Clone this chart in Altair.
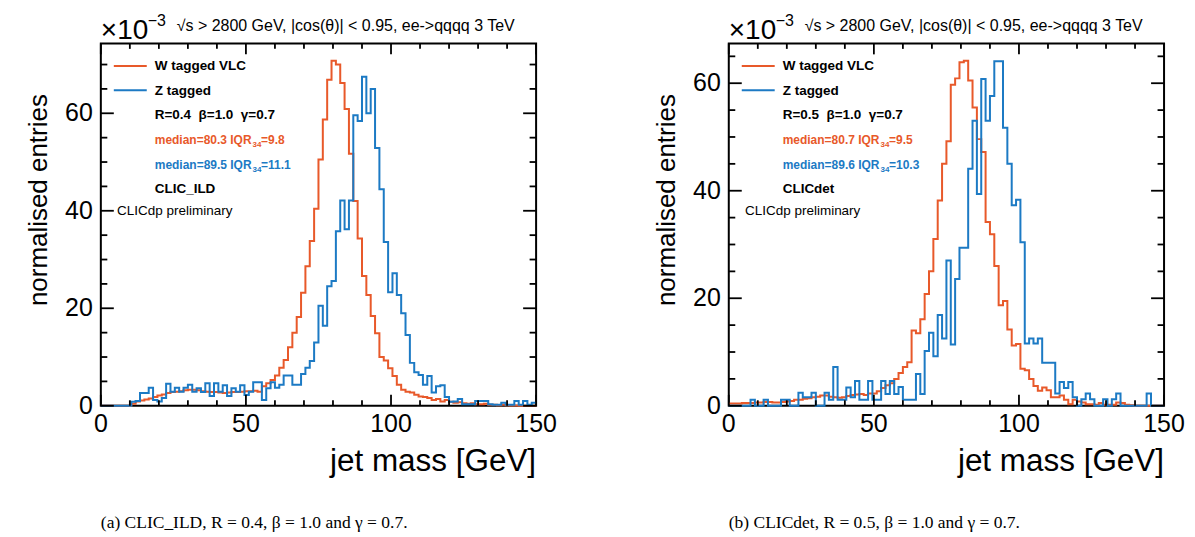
import altair as alt
import pandas as pd

FONT = "Liberation Sans"
SERIF = "Liberation Serif"
ORANGE = "#E8592A"
BLUE = "#1C7AC4"

# bin edges: 100 bins of 1.5 GeV from 0 to 150
edges = [i * 1.5 for i in range(101)]

# CLIC_ILD, R=0.4 (normalised entries x1e-3)
w_ild = [0, 0, 0, 0, 0, 0, 0, 0.4, 0.9, 1.1,
         1.3, 1.5, 1.8, 2.1, 2.3, 2.6, 2.8, 2.9, 3.0, 3.2,
         3.3, 3.3, 3.2, 3.0, 2.9, 2.8, 2.8, 2.7, 2.6, 2.7,
         2.8, 2.8, 2.9, 3.0, 3.0, 3.1, 2.9, 4.0, 4.6, 5.3,
         6.2, 7.8, 9.4, 12.0, 15.0, 18.2, 23.2, 28.6, 33.8, 40.4,
         50.5, 58.7, 66.9, 70.8, 70.0, 66.2, 60.9, 51.7, 42.0, 34.3,
         26.6, 22.7, 18.4, 14.9, 10.0, 9.3, 7.7, 6.1, 4.3, 3.3,
         2.9, 2.7, 2.25, 1.9, 1.8, 1.6, 1.2, 1.4, 0.9, 1.2,
         0.8, 0.6, 0.7, 0.5, 0.4, 0.5, 0.3, 0.3, 0.4, 0.2,
         0.2, 0.1, 0.2, 0.1, 0.05, 0.05, 0, 0, 0, 0]
z_ild = [0, 0, 0, 0, 0, 0, 0, 0.8, 1.0, 2.6,
         2.6, 3.7, 1.2, 0.9, 1.6, 4.5, 2.9, 3.7, 2.9, 3.7,
         4.3, 2.9, 3.6, 2.8, 4.6, 2.0, 4.6, 2.9, 4.2, 2.0,
         3.6, 2.9, 4.2, 2.2, 2.9, 4.8, 4.8, 1.2, 3.6, 4.8,
         3.7, 4.3, 6.2, 6.2, 4.3, 4.3, 6.5, 7.8, 9.2, 13.0,
         20.5, 16.4, 24.5, 25.6, 35.8, 42.1, 36.2, 42.1, 59.6, 58.4,
         67.5, 60.0, 65.0, 52.9, 44.4, 33.6, 23.3, 27.2, 22.7, 19.0,
         14.5, 8.8, 6.9, 6.3, 4.3, 6.1, 2.7, 4.0, 4.2, 1.8,
         0.8, 0.9, 1.4, 0.3, 0.3, 0.3, 1.0, 1.0, 1.0, 0.3,
         0.2, 0.2, 0.6, 0.2, 0.2, 1.0, 0.2, 1.0, 0.2, 0.6]

# CLICdet, R=0.5
w_det = [0.4, 0.4, 0.4, 0.5, 0.5, 0.5, 0.6, 0.6, 0.7, 0.7,
         0.6, 0.6, 0.7, 0.8, 0.9, 1.1, 1.1, 1.3, 1.4, 1.6,
         1.7, 1.9, 1.9, 1.7, 1.6, 1.5, 1.6, 1.8, 2.0, 2.1,
         2.2, 2.0, 2.3, 2.3, 2.7, 3.3, 3.8, 4.2, 5.0, 6.1,
         7.2, 8.1, 14.0, 13.5, 16.1, 20.8, 25.0, 31.0, 38.2, 45.0,
         49.2, 59.7, 60.9, 63.9, 64.2, 60.5, 55.5, 49.6, 47.2, 34.2,
         31.9, 26.0, 18.7, 19.5, 14.2, 11.2, 11.5, 6.9, 6.6, 5.0,
         3.7, 2.8, 3.4, 2.9, 1.6, 1.6, 1.9, 1.1, 0.3, 1.1,
         0.8, 0.6, 0.3, 0.3, 0.2, 0.5, 0.2, 0.2, 0.2, 0.6,
         0.5, 0.2, 0.1, 0, 0, 0, 0, 0, 0, 0]
z_det = [0, 0, 0, 0, 0, 1.1, 0, 0, 1.1, 0,
         0, 0, 1.1, 1.1, 0, 0, 2.4, 1.6, 1.6, 2.4,
         0, 0, 2.4, 1.1, 7.2, 1.1, 1.1, 3.4, 1.6, 4.6,
         1.1, 1.1, 4.6, 1.1, 1.1, 4.6, 2.2, 4.6, 2.2, 3.5,
         1.1, 1.1, 1.1, 5.9, 2.2, 10.2, 13.6, 9.2, 16.9, 12.5,
         27.0, 11.4, 23.6, 29.4, 29.4, 44.1, 53.0, 39.4, 60.8, 53.0,
         57.6, 64.1, 64.1, 51.7, 45.0, 37.3, 38.3, 30.4, 11.6, 12.5,
         11.6, 12.5, 8.0, 8.0, 8.0, 2.3, 4.4, 3.3, 4.4, 1.6,
         0, 1.2, 2.3, 1.2, 0, 0, 1.2, 0, 1.2, 2.3,
         0, 0, 0, 0, 0, 0, 2.3, 0, 0, 0]

x_major = [0, 50, 100, 150]
x_minor = [10, 20, 30, 40, 60, 70, 80, 90, 110, 120, 130, 140]
y_major = [0, 20, 40, 60]
y_minor_all = [5, 10, 15, 25, 30, 35, 45, 50, 55, 65, 70]
x_labels = ["0", "50", "100", "150"]
y_labels = ["0", "20", "40", "60"]

W, H = 436, 363
one = pd.DataFrame({"k": [0]})


def txt(text, x, y, size, weight="normal", color="black", align="left",
        baseline="alphabetic", angle=0, font=FONT):
    return alt.Chart(one).mark_text(
        text=text, fontSize=size, fontWeight=weight, color=color, align=align,
        baseline=baseline, angle=angle, font=font
    ).encode(x=alt.value(x), y=alt.value(y))


def panel(w_vals, z_vals, rtext, med_w, med_z, det, caption, frame_box=False):
    ymax = 1.05 * max(max(w_vals), max(z_vals))
    xs = alt.Scale(domain=[0, 150], nice=False, zero=False)
    ys = alt.Scale(domain=[0, ymax], nice=False, zero=True)
    dw = pd.DataFrame({"mass": edges, "value": w_vals + [w_vals[-1]]})
    dz = pd.DataFrame({"mass": edges, "value": z_vals + [z_vals[-1]]})
    lw = alt.Chart(dw).mark_line(interpolate="step-after", color=ORANGE, strokeWidth=2).encode(
        x=alt.X("mass:Q", scale=xs, axis=None),
        y=alt.Y("value:Q", scale=ys, axis=None))
    lz = alt.Chart(dz).mark_line(interpolate="step-after", color=BLUE, strokeWidth=2).encode(
        x=alt.X("mass:Q", scale=xs, axis=None),
        y=alt.Y("value:Q", scale=ys, axis=None))

    ymin = [v for v in y_minor_all if v <= ymax]
    layers = []
    if frame_box:
        layers.append(alt.Chart(one).mark_rect(opacity=0).encode(
            x=alt.value(-100), x2=alt.value(1095), y=alt.value(-42), y2=alt.value(495)))
    layers += [lw, lz]
    for vals, ln in [(x_major, 11), (x_minor, 5.5)]:
        d = pd.DataFrame({"t": vals})
        layers.append(alt.Chart(d).mark_rule(color="black", strokeWidth=1.8).encode(
            x=alt.X("t:Q", scale=xs, axis=None), y=alt.value(H), y2=alt.value(H - ln)))
        layers.append(alt.Chart(d).mark_rule(color="black", strokeWidth=1.8).encode(
            x=alt.X("t:Q", scale=xs, axis=None), y=alt.value(0), y2=alt.value(ln)))
    for vals, ln in [(y_major, 13), (ymin, 6.5)]:
        d = pd.DataFrame({"t": vals})
        layers.append(alt.Chart(d).mark_rule(color="black", strokeWidth=1.8).encode(
            y=alt.Y("t:Q", scale=ys, axis=None), x=alt.value(0), x2=alt.value(ln)))
        layers.append(alt.Chart(d).mark_rule(color="black", strokeWidth=1.8).encode(
            y=alt.Y("t:Q", scale=ys, axis=None), x=alt.value(W), x2=alt.value(W - ln)))

    # tick labels through the scales
    dxl = pd.DataFrame({"t": x_major, "lab": x_labels})
    layers.append(alt.Chart(dxl).mark_text(fontSize=25, font=FONT, color="black",
                                           align="center", baseline="alphabetic").encode(
        x=alt.X("t:Q", scale=xs, axis=None), y=alt.value(H + 26), text="lab:N"))
    dyl = pd.DataFrame({"t": y_major, "lab": y_labels})
    layers.append(alt.Chart(dyl).mark_text(fontSize=25, font=FONT, color="black",
                                           align="right", baseline="middle").encode(
        y=alt.Y("t:Q", scale=ys, axis=None), x=alt.value(-8), text="lab:N"))

    # legend samples
    layers.append(alt.Chart(one).mark_rule(color=ORANGE, strokeWidth=2).encode(
        x=alt.value(13), x2=alt.value(46), y=alt.value(22.7)))
    layers.append(alt.Chart(one).mark_rule(color=BLUE, strokeWidth=2).encode(
        x=alt.value(13), x2=alt.value(46), y=alt.value(47)))
    layers += [
        txt("W tagged VLC", 54, 27, 13.5, "bold"),
        txt("Z tagged", 54, 52, 13.5, "bold"),
        txt(rtext, 54, 76, 13.5, "bold"),
        txt(med_w[0], 54, 101, 12, "bold", ORANGE),
        txt("34", 152, 104, 8, "bold", ORANGE),
        txt(med_w[1], 160.5, 101, 12, "bold", ORANGE),
        txt(med_z[0], 54, 125.4, 12, "bold", BLUE),
        txt("34", 152, 128.4, 8, "bold", BLUE),
        txt(med_z[1], 160.5, 125.4, 12, "bold", BLUE),
        txt(det, 54, 149.4, 13.5, "bold"),
        txt("CLICdp preliminary", 16.3, 172, 13.5),
        txt("×10", 0, -4, 28),
        txt("−3", 47, -17, 16),
        txt("√s > 2800 GeV, |cos(θ)| < 0.95, ee->qqqq 3 TeV", 76, -12, 16),
        txt("normalised entries", -54, 157, 26, angle=270, align="center"),
        txt("jet mass [GeV]", W, 428, 31.5, align="right"),
        txt(caption, 0, 485, 17.5, font=SERIF),
    ]
    return alt.layer(*layers).properties(width=W, height=H)


left = panel(w_ild, z_ild, "R=0.4\u00a0\u00a0β=1.0\u00a0\u00a0γ=0.7",
             ("median=80.3 IQR", "=9.8"), ("median=89.5 IQR", "=11.1"),
             "CLIC_ILD", "(a) CLIC_ILD, R = 0.4, β = 1.0 and γ = 0.7.", frame_box=True)
right = panel(w_det, z_det, "R=0.5\u00a0\u00a0β=1.0\u00a0\u00a0γ=0.7",
              ("median=80.7 IQR", "=9.5"), ("median=89.6 IQR", "=10.3"),
              "CLICdet", "(b) CLICdet, R = 0.5, β = 1.0 and γ = 0.7.")

chart = alt.hconcat(left, right, spacing=193, bounds="flush").properties(
    padding=0, autosize=alt.AutoSizeParams(type="pad"), background="white"
).configure_view(stroke="black", strokeWidth=2)

chart.save("out.html", embed_options={"renderer": "svg", "actions": False})
